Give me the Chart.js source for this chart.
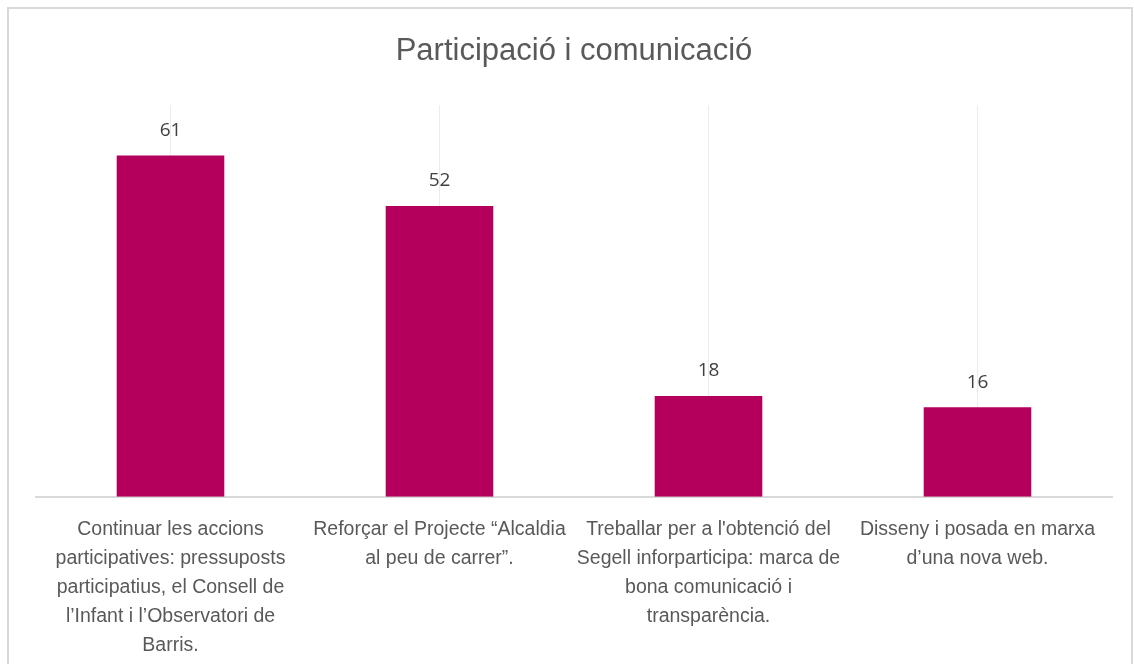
<!DOCTYPE html>
<html>
<head>
<meta charset="utf-8">
<script src="https://cdn.jsdelivr.net/npm/chart.js@4"></script>
<style>
  body { margin: 0; background: #fff; }
  #frame { position: absolute; left: 7px; top: 7px; width: 1122px; height: 700px; border: 2px solid #d9d9d9; }
  #wrap { position: absolute; left: 0; top: 0; width: 1134px; height: 664px; }
</style>
</head>
<body>
<div id="frame"></div>
<div id="wrap"><canvas id="chart"></canvas></div>
<script>
// ====================== Data ======================
const categories = [
  ["Continuar les accions", "participatives: pressuposts", "participatius, el Consell de", "l’Infant i l’Observatori de", "Barris."],
  ["Reforçar el Projecte “Alcaldia", "al peu de carrer”."],
  ["Treballar per a l'obtenció del", "Segell inforparticipa: marca de", "bona comunicació i", "transparència."],
  ["Disseny i posada en marxa", "d’una nova web."]
];
const values = [61, 52, 18, 16];
const titleText = "Participació i comunicació";

// value labels over each bar
const barLabels = {
  id: "barLabels",
  afterDatasetsDraw(chart) {
    const ctx = chart.ctx;
    const meta = chart.getDatasetMeta(0);
    ctx.save();
    ctx.fillStyle = "#404040";
    ctx.font = "19px 'Open Sans'";
    ctx.textAlign = "center";
    ctx.textBaseline = "middle";
    meta.data.forEach((bar, i) => {
      ctx.fillText(values[i], bar.x, bar.y - 25);
    });
    ctx.restore();
  }
};

new Chart(document.getElementById("chart"), {
  type: "bar",
  data: {
    labels: categories,
    datasets: [{
      data: values,
      backgroundColor: "#b4005c",
      barPercentage: 0.4,
      categoryPercentage: 1
    }]
  },
  options: {
    responsive: true,
    maintainAspectRatio: false,
    animation: false,
    layout: { padding: { left: 36, right: 22, top: 0, bottom: -14 } },
    plugins: {
      legend: { display: false },
      tooltip: { enabled: false },
      title: {
        display: true,
        text: titleText,
        color: "#595959",
        font: { family: "'Liberation Sans'", size: 31, weight: "normal" },
        padding: { top: 33, bottom: 35 }
      }
    },
    scales: {
      y: { display: false, min: 0, max: 70 },
      x: {
        grid: { offset: false, color: "#ececec", drawTicks: false },
        border: { color: "#d9d9d9", width: 2 },
        ticks: {
          color: "#595959",
          padding: 18,
          maxRotation: 0,
          autoSkip: false,
          font: { family: "'Liberation Sans'", size: 19.5, lineHeight: 1.49 }
        }
      }
    }
  },
  plugins: [barLabels]
});
</script>
</body>
</html>
